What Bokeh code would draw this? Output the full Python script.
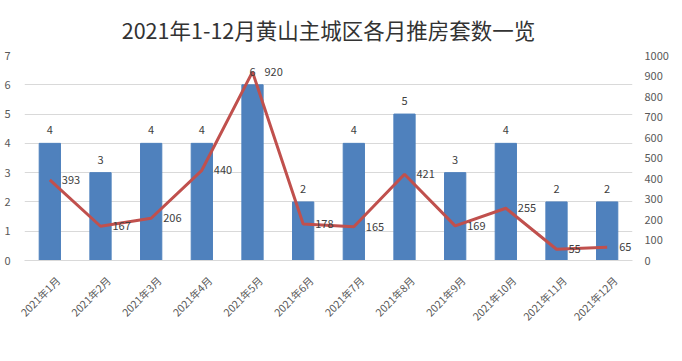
import math
from bokeh.plotting import figure
from bokeh.models import (Range1d, LinearAxis, SingleIntervalTicker, FixedTicker,
                          ColumnDataSource, Legend, LegendItem)
from bokeh.core.properties import value
from bokeh.embed import file_html
from bokeh.resources import INLINE

months = ["2021年1月", "2021年2月", "2021年3月", "2021年4月", "2021年5月", "2021年6月",
          "2021年7月", "2021年8月", "2021年9月", "2021年10月", "2021年11月", "2021年12月"]
projects = [4, 3, 4, 4, 6, 2, 4, 5, 3, 4, 2, 2]
units = [393, 167, 206, 440, 920, 178, 165, 421, 169, 255, 55, 65]

FONT = "Noto Sans CJK SC"
BAR_C = "#4F81BD"
LINE_C = "#C0504D"
LABEL_C = "#595959"
DATA_C = "#404040"

idx = list(range(len(months)))
src = ColumnDataSource(dict(x=idx, m=months, p=projects, u=units,
                            pt=[str(v) for v in projects], ut=[str(v) for v in units]))

p = figure(frame_width=608, frame_height=205, x_range=Range1d(-0.5, len(months) - 0.5),
           y_range=Range1d(0, 7), output_backend="svg", toolbar_location=None,
           title="2021年1-12月黄山主城区各月推房套数一览")
p.min_border_left = 24
p.min_border_right = 34
p.min_border_top = 55
p.min_border_bottom = 40
p.outline_line_color = None
p.background_fill_color = "white"
p.border_fill_color = "white"

p.title.align = "center"
p.title.text_font = FONT
p.title.text_font_size = "21.5px"
p.title.text_font_style = "normal"
p.title.text_color = "#333333"
p.title.standoff = 22

p.extra_y_ranges = {"r": Range1d(0, 1000)}
# label axis: same months, shifted slightly right like the original's rotated labels
shift = 0.16
p.extra_x_ranges = {"lab": Range1d(-0.5 - shift, len(months) - 0.5 - shift)}

bars = p.vbar(x="x", top="p", width=0.42, source=src, color=BAR_C)
line = p.line(x="x", y="u", source=src, y_range_name="r", line_color=LINE_C, line_width=3)

p.text(x="x", y="p", text="pt", source=src, text_font=value(FONT), text_font_size="11px",
       text_color=DATA_C, text_align="center", text_baseline="bottom", y_offset=-9)
p.text(x="x", y="u", text="ut", source=src, y_range_name="r", text_font=value(FONT),
       text_font_size="11px", text_color=DATA_C, text_align="left",
       text_baseline="middle", x_offset=12)

ya = p.yaxis[0]
ya.ticker = SingleIntervalTicker(interval=1)
ra = LinearAxis(y_range_name="r", ticker=SingleIntervalTicker(interval=100))
p.add_layout(ra, "right")
for ax in (ya, ra):
    ax.axis_line_color = None
    ax.major_tick_line_color = None
    ax.minor_tick_line_color = None
    ax.major_label_text_font = FONT
    ax.major_label_text_font_size = "11px"
    ax.major_label_text_color = LABEL_C
ya.major_label_standoff = 8
ra.major_label_standoff = 6

p.xaxis[0].visible = False
xa = LinearAxis(x_range_name="lab", ticker=FixedTicker(ticks=idx),
                major_label_overrides={i: m for i, m in zip(idx, months)})
p.add_layout(xa, "below")
xa.axis_line_color = "#D9D9D9"
xa.major_tick_line_color = None
xa.minor_tick_line_color = None
xa.major_tick_out = 0
xa.major_tick_in = 0
xa.minor_tick_out = 0
xa.minor_tick_in = 0
xa.major_label_orientation = math.pi / 4
xa.major_label_text_font = FONT
xa.major_label_text_font_size = "10.5px"
xa.major_label_text_color = LABEL_C
xa.major_label_standoff = 18

p.xgrid.grid_line_color = None
p.ygrid.grid_line_color = "#D9D9D9"

legend = Legend(items=[LegendItem(label="推盘楼盘数（个）", renderers=[bars]),
                       LegendItem(label="推盘房源数（套）", renderers=[line])],
                orientation="horizontal", location="center")
legend.label_text_font = FONT
legend.label_text_font_size = "10.5px"
legend.label_text_color = LABEL_C
legend.label_height = 12
legend.glyph_width = 27
legend.glyph_height = 7
legend.border_line_color = None
legend.background_fill_alpha = 0
legend.spacing = 9
legend.label_standoff = 3
legend.padding = 0
legend.margin = 0
p.add_layout(legend, "below")

open("out.html", "w").write(file_html(p, INLINE))
